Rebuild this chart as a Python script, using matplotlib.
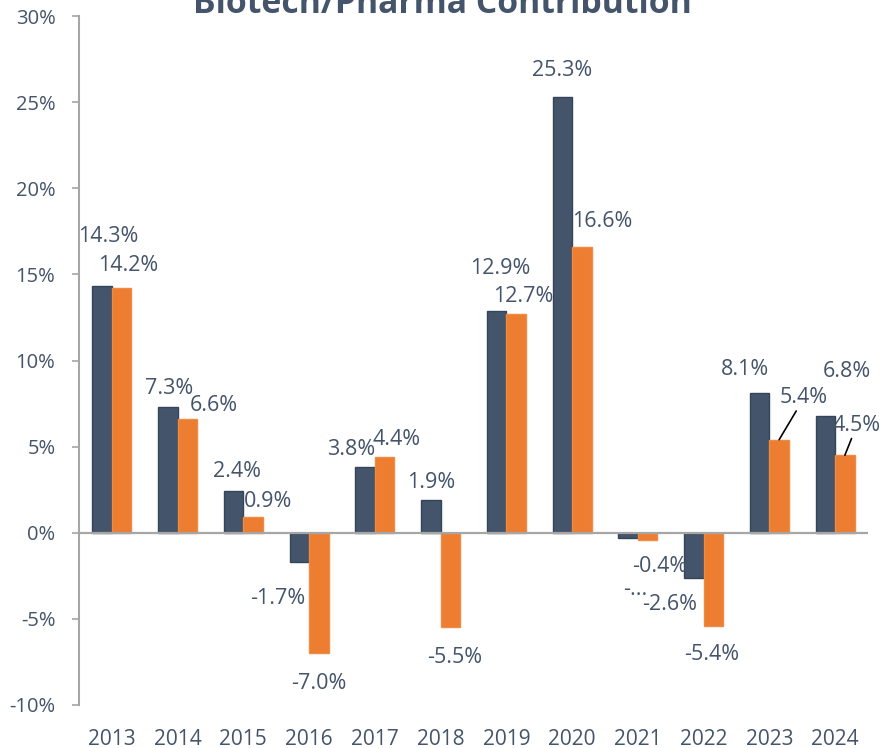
import matplotlib
matplotlib.use("Agg")
import matplotlib.pyplot as plt
import numpy as np

years = ["2013", "2014", "2015", "2016", "2017", "2018", "2019", "2020", "2021", "2022", "2023", "2024"]
series_a = [14.3, 7.3, 2.4, -1.7, 3.8, 1.9, 12.9, 25.3, -0.3, -2.6, 8.1, 6.8]
series_b = [14.2, 6.6, 0.9, -7.0, 4.4, -5.5, 12.7, 16.6, -0.4, -5.4, 5.4, 4.5]
labels_a = ["14.3%", "7.3%", "2.4%", "-1.7%", "3.8%", "1.9%", "12.9%", "25.3%", "-...", "-2.6%", "8.1%", "6.8%"]
labels_b = ["14.2%", "6.6%", "0.9%", "-7.0%", "4.4%", "-5.5%", "12.7%", "16.6%", "-0.4%", "-5.4%", "5.4%", "4.5%"]
yticks = [-10, -5, 0, 5, 10, 15, 20, 25, 30]
title = "Biotech/Pharma Contribution"

# label offsets in pixels from bar end (dx, dy; dy positive = up)
off_a = [(6, 50), (1, 19), (3, 20), (-22, -36), (-14, 18), (0, 18), (4, 42), (0, 26), (7, -52), (-24, -27), (-15, 24), (21, 44)]
off_b = [(7, 23), (26, 14), (15, 16), (0, -30), (12, 17), (4, -30), (7, 17), (20, 25), (12, -27), (-2, -29), (25, 42), (12, 30)]
leader_b = [False] * 10 + [True, True]

DARK = "#44546A"
ORANGE = "#ED7D31"
TXT = "#44546A"
GRAY = "#A6A6A6"

plt.rcParams['font.family'] = ['Open Sans', 'DejaVu Sans']

fig = plt.figure(figsize=(8.82, 7.48), dpi=100)
ax = fig.add_axes([79 / 882, 43 / 748, (868 - 79) / 882, (705 - 16) / 748])

x = np.arange(len(years))
w = 0.296
ax.bar(x - w / 2, series_a, w, color=DARK, edgecolor="#34455A", linewidth=1.0, zorder=2)
ax.bar(x + w / 2, series_b, w, color=ORANGE, edgecolor="#F08B44", linewidth=1.0, zorder=2)

ax.set_xlim(-0.5, len(years) - 0.5)
ax.set_ylim(-10, 30)
ax.axhline(0, color=GRAY, lw=1.6, zorder=3)

ax.set_yticks(yticks)
ax.set_yticklabels([f"{t}%" for t in yticks])
ax.set_xticks(x)
ax.set_xticklabels(years)

for s in ["top", "right", "bottom"]:
    ax.spines[s].set_visible(False)
ax.spines["left"].set_color(GRAY)
ax.spines["left"].set_linewidth(1.5)
ax.tick_params(axis="y", colors=GRAY, length=5, width=1.2, pad=12, labelsize=14.5, labelcolor=TXT)
ax.tick_params(axis="x", length=0, pad=17, labelsize=15, labelcolor=TXT)

for i in range(len(years)):
    dx, dy = off_a[i]
    ax.annotate(labels_a[i], (x[i] - w / 2, series_a[i]), xytext=(dx, dy),
                textcoords="offset pixels", ha="center", va="center",
                fontsize=15.5, color=TXT, zorder=5)
    dx, dy = off_b[i]
    if leader_b[i]:
        ax.annotate(labels_b[i], (x[i] + w / 2, series_b[i]), xytext=(dx, dy),
                    textcoords="offset pixels", ha="center", va="center",
                    fontsize=15.5, color=TXT, zorder=5,
                    arrowprops=dict(arrowstyle="-", color="black", lw=1.2,
                                    shrinkA=0, shrinkB=0))
    else:
        ax.annotate(labels_b[i], (x[i] + w / 2, series_b[i]), xytext=(dx, dy),
                    textcoords="offset pixels", ha="center", va="center",
                    fontsize=15.5, color=TXT, zorder=5)

fig.text(442 / 882, 1 - 13 / 748, title, ha="center", va="baseline",
         fontsize=24.3, fontweight="bold", color=DARK)

fig.savefig("out.png", dpi=100)
